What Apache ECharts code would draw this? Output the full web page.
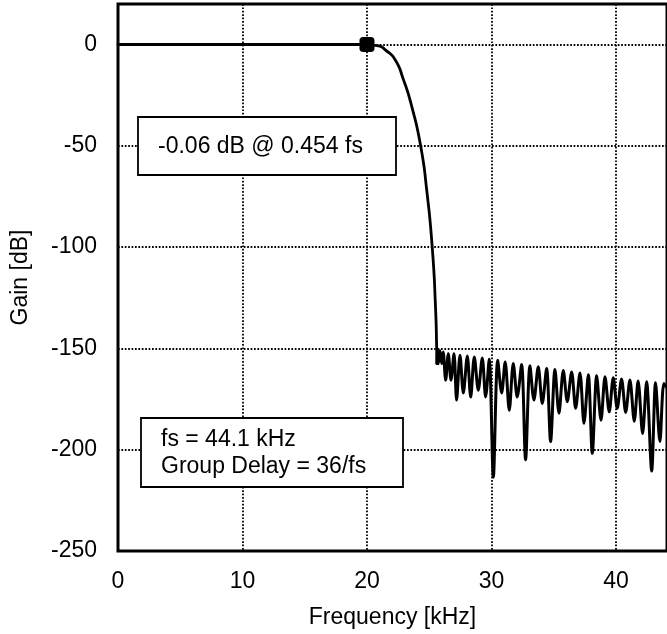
<!DOCTYPE html>
<html>
<head>
<meta charset="utf-8">
<script src="https://cdn.jsdelivr.net/npm/echarts@6/dist/echarts.min.js"></script>
<style>
html,body{margin:0;padding:0;background:#fff;}
#chart{width:667px;height:634px;}
</style>
</head>
<body>
<div id="chart"></div>
<script>
// X tick labels (kHz) and Y tick labels (dB)
const xTicks = [0, 10, 20, 30, 40];
const yTicks = [0, -50, -100, -150, -200, -250];

// Passband + transition band
const transitionFreq = [0, 20, 20.64, 21.04, 21.45, 22.25, 22.92, 23.59, 24.31, 24.79, 25.24, 25.5, 25.6, 25.62];
const transitionGain = [0, 0, -0.4, -0.8, -2.5, -7.4, -17.2, -30.4, -50, -71.4, -100, -128.8, -150, -157.5];

// Stopband ripple: alternating nulls and lobe peaks
const stopbandFreq = [25.62, 25.65, 25.73, 25.86, 26.0, 26.12, 26.32, 26.53, 26.75, 26.99, 27.2, 27.47, 27.74, 28.06, 28.33, 28.62, 28.94, 29.26, 29.53, 29.82, 30.15, 30.5, 30.82, 31.1, 31.43, 31.75, 32.07, 32.42, 32.74, 33.09, 33.41, 33.76, 34.08, 34.43, 34.75, 35.1, 35.42, 35.77, 36.09, 36.44, 36.76, 37.11, 37.43, 37.78, 38.1, 38.45, 38.8, 39.12, 39.46, 39.78, 40.1, 40.45, 40.78, 41.12, 41.47, 41.78, 42.14, 42.46, 42.87, 43.18, 43.53, 43.85, 44.1];
const stopbandGain = [-157.5, -150, -157.5, -151, -157.5, -151.8, -165.7, -152.6, -165.7, -152.6, -175.5, -153.4, -172, -153.8, -174, -154.2, -170.6, -154.7, -174, -155.4, -213.6, -155.9, -172, -156.7, -180.5, -157.5, -174, -158, -205, -158.6, -175.5, -159.1, -177.2, -159.9, -196, -160.4, -182, -160.9, -176.3, -161.6, -179.6, -162.1, -187, -163, -201.8, -163.5, -185.4, -164, -181.3, -164.5, -179.6, -165.1, -181.6, -165.6, -185.9, -166.1, -192, -166.4, -210.5, -166.9, -196, -167.3, -169.5];

// Marked passband edge point
const edgeFreq = [20];
const edgeGain = [0];

// Annotation texts
const noteTop = '-0.06 dB @ 0.454 fs';
const noteBottom = ['fs = 44.1 kHz', 'Group Delay = 36/fs'];

const FONT = '"Liberation Sans", Arial, sans-serif';
const zip = (a, b) => a.map((v, i) => [v, b[i]]);

const chart = echarts.init(document.getElementById('chart'), null, {renderer: 'canvas'});
const gridLine = {show: true, lineStyle: {color: '#000', width: 1.8, type: [1.7, 1.7]}};

chart.setOption({
  animation: false,
  backgroundColor: '#fff',
  grid: {left: 118, right: -2, top: 4, bottom: 82, show: true, borderColor: '#000', borderWidth: 3, backgroundColor: 'transparent'},
  xAxis: {
    type: 'value', min: 0, max: 44.1, interval: 10,
    name: 'Frequency [kHz]', nameLocation: 'middle', nameGap: 55,
    nameTextStyle: {fontFamily: FONT, fontSize: 23, color: '#000'},
    axisLine: {show: false}, axisTick: {show: false},
    axisLabel: {
      margin: 19, fontFamily: FONT, fontSize: 23, color: '#000', showMaxLabel: false,
      formatter: v => xTicks.includes(v) ? String(v) : ''
    },
    splitLine: gridLine
  },
  yAxis: {
    type: 'value', min: -250, max: 20, interval: 50,
    name: 'Gain [dB]', nameLocation: 'middle', nameGap: 86,
    nameTextStyle: {fontFamily: FONT, fontSize: 23, color: '#000'},
    axisLine: {show: false}, axisTick: {show: false},
    axisLabel: {
      margin: 21, fontFamily: FONT, fontSize: 23, color: '#000', showMaxLabel: false,
      formatter: v => yTicks.includes(v) ? String(v) : ''
    },
    splitLine: gridLine
  },
  series: [
    {
      type: 'line', data: zip(transitionFreq, transitionGain), smooth: 0.6,
      symbol: 'none', lineStyle: {color: '#000', width: 2.8, cap: 'round', join: 'round'}, z: 3
    },
    {
      type: 'line', data: zip(stopbandFreq, stopbandGain), smooth: 0.3,
      symbol: 'none', lineStyle: {color: '#000', width: 3, cap: 'round', join: 'round'}, z: 3
    },
    {
      type: 'scatter', data: zip(edgeFreq, edgeGain), symbol: 'roundRect', symbolSize: 15,
      itemStyle: {color: '#000', opacity: 1}, z: 4
    }
  ],
  graphic: [
    {type: 'rect', shape: {x: 138, y: 117, width: 258, height: 58}, style: {fill: '#fff', stroke: '#000', lineWidth: 1.8}, z: 100},
    {type: 'text', x: 158, y: 147, style: {text: noteTop, font: '23px ' + FONT, fill: '#000', verticalAlign: 'middle'}, z: 101},
    {type: 'rect', shape: {x: 141, y: 418, width: 262, height: 69}, style: {fill: '#fff', stroke: '#000', lineWidth: 1.8}, z: 100},
    {type: 'text', x: 161, y: 453, style: {text: noteBottom.join('\n'), font: '23px ' + FONT, lineHeight: 27, fill: '#000', verticalAlign: 'middle'}, z: 101}
  ]
});
</script>
</body>
</html>
